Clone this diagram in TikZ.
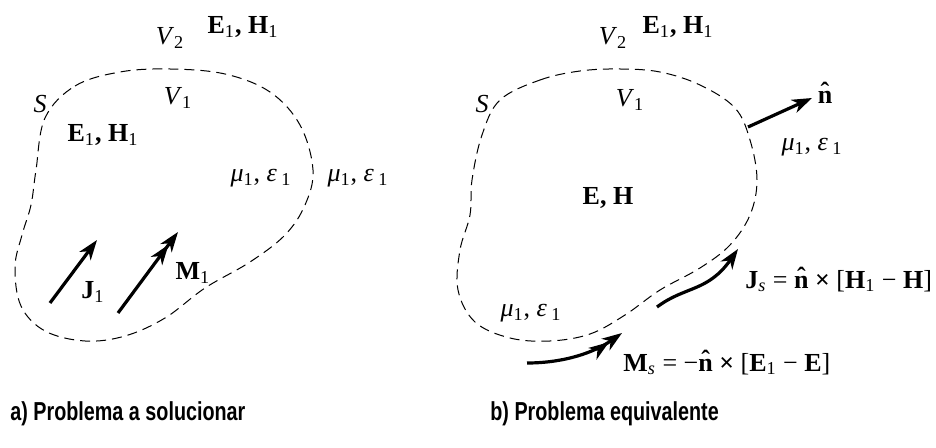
\documentclass[tikz,border=0pt]{standalone}
\usepackage{fontspec}
\setmainfont{Liberation Serif}
\newfontfamily\capfont[FakeStretch=0.76]{Liberation Sans}
\usetikzlibrary{arrows.meta}

\newcommand{\subi}[1]{\textsubscript{\mdseries#1}}
\newcommand{\nhat}{\textbf{\ooalign{n\cr\hidewidth\raisebox{0.25ex}{ˆ}\hidewidth\cr}}}

\tikzset{
    lbl/.style={inner sep=0pt, font=\fontsize{13}{15}\selectfont},
    surf/.style={dashed, dash pattern=on 5pt off 3pt, line width=0.5pt},
    vec/.style={line width=1.6pt, -{Stealth[length=10pt, width=7pt, inset=3pt]}},
    vecvec/.style={line width=1.6pt, -{Stealth[length=10pt, width=7pt, inset=3pt, sep=-2pt]Stealth[length=10pt, width=7pt, inset=3pt]}},
    captxt/.style={inner sep=0pt, anchor=west, font=\capfont\bfseries\fontsize{13}{15}\selectfont}
}

\begin{document}
\begin{tikzpicture}[x=0.5pt, y=-0.5pt]
        \useasboundingbox (0,0) rectangle (936,448);

        % Surfaces
        \draw[surf] plot[smooth cycle, tension=0.6] coordinates {(45,118) (75,86) (120,72) (170,69) (225,74) (270,92) (300,125) (313,170) (305,205) (285,235) (250,262) (205,288) (165,318) (125,336) (85,341) (45,331) (21,306) (15,267) (22,235) (31,205) (36,170)};
        \draw[surf] plot[smooth cycle, tension=0.6] coordinates {(500,100) (540,80) (580,71) (620,69) (660,72) (700,85) (735,108) (750,140) (757,180) (750,215) (730,245) (700,268) (660,290) (625,315) (590,334) (550,341) (510,338) (475,322) (458,290) (460,250) (470,215) (472,180) (482,135)};

        % Left problem
        \node[lbl] (v2a) at (170,38) {\textit{V}\subi{2}};
        \node[lbl] (f2a) at (243,27) {\textbf{E\subi{1}, H\subi{1}}};
        \node[lbl] (sa) at (40,104) {\textit{S}};
        \node[lbl] (v1a) at (178,98) {\textit{V}\subi{1}};
        \node[lbl] (f1a) at (103,135) {\textbf{E\subi{1}, H\subi{1}}};
        \node[lbl] (mina) at (261,178) {\textit{μ}\subi{1}, \textit{ε}\,\subi{1}};
        \node[lbl] (mouta) at (358,178) {\textit{μ}\subi{1}, \textit{ε}\,\subi{1}};
        \node[lbl] (ja) at (93,292) {\textbf{J\subi{1}}};
        \node[lbl] (ma) at (193,273) {\textbf{M\subi{1}}};
        \coordinate (j0) at (50,303);
        \coordinate (j1) at (97,240);
        \coordinate (m0) at (118,313);
        \coordinate (m1) at (178,232);

        % Right problem
        \node[lbl] (v2b) at (613,38) {\textit{V}\subi{2}};
        \node[lbl] (f2b) at (678,27) {\textbf{E\subi{1}, H\subi{1}}};
        \node[lbl] (sb) at (482,104) {\textit{S}};
        \node[lbl] (v1b) at (630,100) {\textit{V}\subi{1}};
        \node[lbl] (nb) at (825,97) {\nhat};
        \node[lbl] (moutb) at (812,147) {\textit{μ}\subi{1}, \textit{ε}\,\subi{1}};
        \node[lbl] (fb) at (608,198) {\textbf{E, H}};
        \node[lbl] (minb) at (531,313) {\textit{μ}\subi{1}, \textit{ε}\,\subi{1}};
        \node[lbl, anchor=west] (jsb) at (745,281) {\textbf{J}\subi{\textit{s}} = \nhat\ \textbf{×} [\textbf{H\subi{1}} − \textbf{H}]};
        \node[lbl, anchor=west] (msb) at (623,364) {\textbf{M}\subi{\textit{s}} = −\nhat\ \textbf{×} [\textbf{E\subi{1}} − \textbf{E}]};
        \coordinate (n0) at (748,127);
        \coordinate (n1) at (812,98);
        \coordinate (js0) at (657,307);
        \coordinate (js1) at (738,249);
        \coordinate (ms0) at (527,363);
        \coordinate (ms1) at (622,333);

        % Arrows
        \draw[vec] (j0) -- (j1);
        \draw[vecvec] (m0) -- (m1);
        \draw[vec] (n0) -- (n1);
        \draw[vec] (js0) .. controls (685,286) and (708,292) .. (js1);
        \draw[vecvec] (ms0) .. controls (565,363) and (595,352) .. (ms1);

        % Captions
        \node[captxt] (capa) at (10,414) {a) Problema a solucionar};
        \node[captxt] (capb) at (490,414) {b) Problema equivalente};
    \end{tikzpicture}
\end{document}
